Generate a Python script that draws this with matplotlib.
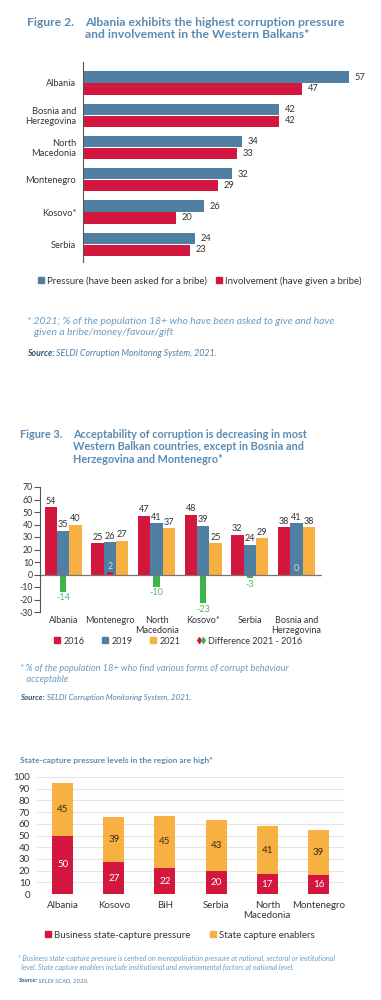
import numpy as np
import matplotlib
matplotlib.use("Agg")
import matplotlib.pyplot as plt
from matplotlib.patches import Patch
from matplotlib.lines import Line2D
from matplotlib.legend_handler import HandlerTuple

plt.rcParams['font.family'] = ['Lato', 'DejaVu Sans']

# ---- datos figura 2 ----
paises_f2 = ["Albania", "Bosnia and\nHerzegovina", "North\nMacedonia", "Montenegro", "Kosovo*", "Serbia"]
presion = [57, 42, 34, 32, 26, 24]
involucramiento = [47, 42, 33, 29, 20, 23]

# ---- datos figura 3 ----
paises_f3 = ["Albania", "Montenegro", "North\nMacedonia", "Kosovo*", "Serbia", "Bosnia and\nHerzegovina"]
acept_2016 = [54, 25, 47, 48, 32, 38]
acept_2019 = [35, 26, 41, 39, 24, 41]
acept_2021 = [40, 27, 37, 25, 29, 38]
diferencia = [-14, 2, -10, -23, -3, 0]
ticks_f3 = [70, 60, 50, 40, 30, 20, 10, 0, -10, -20, -30]

# ---- datos state capture ----
paises_sc = ["Albania", "Kosovo", "BiH", "Serbia", "North\nMacedonia", "Montenegro"]
presion_sc = [50, 27, 22, 20, 17, 16]
habilitadores_sc = [45, 39, 45, 43, 41, 39]

AZUL = "#4f7fa2"
ROJO = "#d3173f"
NARANJA = "#f7b042"
VERDE = "#3bb54a"
TITULO = "#5a8bb3"
GRIS = "#333333"
NOTA = "#6a9cc4"

W, H = 381, 1000
fig = plt.figure(figsize=(W / 100, H / 100), dpi=100)


def caja(x0, y0, x1, y1):
    return [x0 / W, 1 - y1 / H, (x1 - x0) / W, (y1 - y0) / H]


def fx(x):
    return x / W


def fy(y):
    return 1 - y / H


def fuente(ax_ref, x, y, texto, size, color_b="#2f5677", color_t="#4f7ea6"):
    t = fig.text(fx(x), fy(y), "Source:", fontsize=size, fontweight="bold",
                 style="italic", color=color_b, va="center")
    ax_ref.annotate(" " + texto, xy=(1, 0.5), xycoords=t, va="center", ha="left",
                    fontsize=size, style="italic", color=color_t, annotation_clip=False)


#################
### Figura 2 ####
#################
fig.text(fx(27), fy(17), "Figure 2.", fontsize=8.7, fontweight="bold", color=TITULO, va="top")
fig.text(fx(85), fy(17), "Albania exhibits the highest corruption pressure\nand involvement in the Western Balkans*",
         fontsize=8.7, fontweight="bold", color=TITULO, va="top", linespacing=1.1)

ax1 = fig.add_axes(caja(83, 62, 363, 262))
y = np.arange(len(paises_f2))
h = 0.35
ax1.barh(y - h / 2 - 0.01, presion, height=h, color=AZUL)
ax1.barh(y + h / 2 + 0.01, involucramiento, height=h, color=ROJO)
for i in range(len(y)):
    ax1.annotate(str(presion[i]), (presion[i], y[i] - h / 2), xytext=(4, 0), textcoords="offset points",
                 va="center", fontsize=6.7, color=GRIS)
    ax1.annotate(str(involucramiento[i]), (involucramiento[i], y[i] + h / 2), xytext=(4, 0),
                 textcoords="offset points", va="center", fontsize=6.7, color=GRIS)
ax1.set_xlim(0, 60)
ax1.set_ylim(len(y) - 0.45, -0.65)
ax1.set_yticks(y)
ax1.set_yticklabels(paises_f2, fontsize=6.7, color=GRIS, linespacing=1.1)
ax1.tick_params(axis="y", length=0, pad=5)
ax1.set_xticks([])
for s in ["top", "right", "bottom"]:
    ax1.spines[s].set_visible(False)
ax1.spines["left"].set_color("#555555")
ax1.spines["left"].set_linewidth(0.8)

fig.legend([Patch(color=AZUL), Patch(color=ROJO)],
           ["Pressure (have been asked for a bribe)", "Involvement (have given a bribe)"],
           loc="center", bbox_to_anchor=(fx(200), fy(281)), ncol=2, frameon=False,
           fontsize=6.9, handlelength=0.6, handleheight=0.6, handletextpad=0.3,
           columnspacing=1.0, labelcolor=GRIS)

fig.text(fx(27), fy(327), "* 2021; % of the population 18+ who have been asked to give and have\n   given a bribe/money/favour/gift",
         fontsize=7.5, style="italic", color=NOTA, va="center", linespacing=1.2)
fuente(ax1, 27, 354, "SELDI Corruption Monitoring System, 2021.", 6.3)

#################
### Figura 3 ####
#################
fig.text(fx(20), fy(429), "Figure 3.", fontsize=7.8, fontweight="bold", color=TITULO, va="top")
fig.text(fx(73), fy(429), "Acceptability of corruption is decreasing in most\nWestern Balkan countries, except in Bosnia and\nHerzegovina and Montenegro*",
         fontsize=7.8, fontweight="bold", color=TITULO, va="top", linespacing=1.15)

ax2 = fig.add_axes(caja(40, 487, 322, 612))
x = np.arange(len(paises_f3))
w = 0.265
ax2.bar(x - w, acept_2016, width=w, color=ROJO)
ax2.bar(x, acept_2019, width=w, color=AZUL)
ax2.bar(x + w, acept_2021, width=w, color=NARANJA)
col_dif = [ROJO if d > 0 else VERDE for d in diferencia]
ax2.bar(x, diferencia, width=0.13, color=col_dif)
for i in range(len(x)):
    for dx, v in [(-w, acept_2016[i]), (0, acept_2019[i]), (w, acept_2021[i])]:
        ax2.annotate(str(v), (x[i] + dx, v), xytext=(0, 1), textcoords="offset points",
                     ha="center", va="bottom", fontsize=6.5, color=GRIS)
    d = diferencia[i]
    if d < 0:
        ax2.annotate(str(d), (x[i], d), xytext=(0, -1), textcoords="offset points",
                     ha="center", va="top", fontsize=6.5, color="#55b860")
    else:
        ax2.annotate(str(d), (x[i], d), xytext=(0, 1), textcoords="offset points",
                     ha="center", va="bottom", fontsize=6.5, color="#c8dbea")
ax2.axhline(0, color="#777777", lw=0.9)
ax2.set_ylim(-30, 70)
ax2.set_xlim(-0.5, 5.55)
ax2.set_yticks(ticks_f3)
ax2.set_yticklabels([str(t) for t in ticks_f3], fontsize=6.3, color=GRIS)
ax2.tick_params(axis="y", length=4, width=0.8, color="#555555", pad=1)
ax2.set_xticks(x)
ax2.set_xticklabels(paises_f3, fontsize=6.5, color=GRIS, linespacing=1.1, va="top")
ax2.tick_params(axis="x", length=0, pad=3)
for s in ["top", "right", "bottom"]:
    ax2.spines[s].set_visible(False)
ax2.spines["left"].set_color("#555555")
ax2.spines["left"].set_linewidth(0.8)

dif_handle = (Line2D([], [], marker="d", color=ROJO, ls="", markersize=3),
              Line2D([], [], marker="d", color=VERDE, ls="", markersize=3))
fig.legend([Patch(color=ROJO), Patch(color=AZUL), Patch(color=NARANJA), dif_handle],
           ["2016", "2019", "2021", "Difference 2021 - 2016"],
           handler_map={tuple: HandlerTuple(ndivide=None, pad=0.3)},
           loc="center", bbox_to_anchor=(fx(178), fy(641)), ncol=4, frameon=False,
           fontsize=6.5, handlelength=0.6, handleheight=0.6, handletextpad=0.4,
           columnspacing=2.0, labelcolor=GRIS)

fig.text(fx(20), fy(674), "* % of the population 18+ who find various forms of corrupt behaviour\n   acceptable",
         fontsize=6.7, style="italic", color=NOTA, va="center", linespacing=1.15)
fuente(ax2, 20, 697, "SELDI Corruption Monitoring System, 2021.", 5.7)

#################
## State capture
#################
fig.text(fx(20), fy(761), "State-capture pressure levels in the region are high*",
         fontsize=6, fontweight="bold", color=TITULO, va="center")

ax3 = fig.add_axes(caja(37, 777, 344, 894))
xs = np.arange(len(paises_sc))
ws = 0.41
ax3.bar(xs, presion_sc, width=ws, color=ROJO, zorder=3)
ax3.bar(xs, habilitadores_sc, width=ws, bottom=presion_sc, color=NARANJA, zorder=3)
for i in range(len(xs)):
    ax3.text(xs[i], presion_sc[i] / 2, str(presion_sc[i]), ha="center", va="center",
             fontsize=7, color="white", zorder=4)
    ax3.text(xs[i], presion_sc[i] + habilitadores_sc[i] / 2, str(habilitadores_sc[i]),
             ha="center", va="center", fontsize=7, color="#3a2a10", zorder=4)
ax3.set_ylim(0, 100)
ax3.set_xlim(-0.5, 5.5)
ax3.set_yticks(np.arange(0, 101, 10))
ax3.tick_params(axis="y", length=0, labelsize=7, labelcolor=GRIS, pad=5)
ax3.set_xticks(xs)
ax3.set_xticklabels(paises_sc, fontsize=7, color=GRIS, linespacing=1.1)
ax3.tick_params(axis="x", length=0, pad=5)
ax3.grid(axis="y", color="#e3e3e3", lw=0.8, zorder=0)
for s in ax3.spines.values():
    s.set_visible(False)

fig.legend([Patch(color=ROJO), Patch(color=NARANJA)],
           ["Business state-capture pressure", "State capture enablers"],
           loc="center", bbox_to_anchor=(fx(180), fy(935)), ncol=2, frameon=False,
           fontsize=7, handlelength=0.6, handleheight=0.6, handletextpad=0.3,
           columnspacing=2.0, labelcolor=GRIS)

fig.text(fx(18), fy(963), "* Business state-capture pressure is centred on monopolisation pressure at national, sectoral or institutional\n  level. State capture enablers include institutional and environmental factors at national level.",
         fontsize=5.1, style="italic", color=NOTA, va="center", linespacing=1.2)
fuente(ax3, 18, 981, "SELDI SCAD, 2020.", 4.4)

fig.savefig("out.png", dpi=100, facecolor="white")
